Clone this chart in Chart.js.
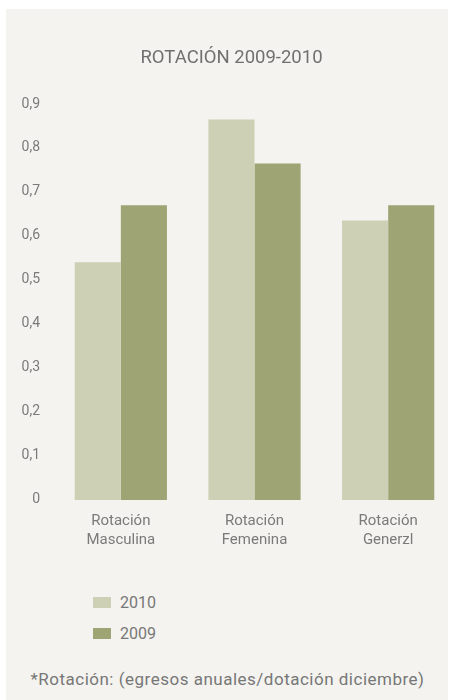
<!DOCTYPE html>
<html>
<head>
<meta charset="utf-8">
<script src="https://cdn.jsdelivr.net/npm/chart.js@4"></script>
<style>
  html, body { margin: 0; padding: 0; background: #ffffff; overflow: hidden; width: 449px; height: 700px; }
  #panel { position: absolute; left: 6px; top: 9px; width: 442px; height: 691px; background: #f4f3ef; }
  #chartBox { position: absolute; left: 0; top: 0; width: 455px; height: 573px; }
  #legend { position: absolute; left: 93px; top: 587px; font-family: Roboto, sans-serif; font-size: 16px; color: #777; }
  .item { display: flex; align-items: center; height: 31px; }
  .swatch { width: 18px; height: 11px; margin-right: 9px; }
  #note { position: absolute; left: 0; width: 455px; top: 669px; text-align: center;
          font-family: Roboto, sans-serif; font-size: 17px; letter-spacing: 0.5px; color: #777; }
</style>
</head>
<body>
<div id="panel"></div>
<div id="chartBox"><canvas id="rotChart"></canvas></div>
<div id="legend"></div>
<div id="note">*Rotación: (egresos anuales/dotación diciembre)</div>
<script>
// data
const categories = [['Rotación', 'Masculina'], ['Rotación', 'Femenina'], ['Rotación', 'Generzl']];
const values2010 = [0.54, 0.865, 0.635];
const values2009 = [0.67, 0.765, 0.67];
const seriesNames = ['2010', '2009'];
const seriesColors = ['#ced0b5', '#9ea474'];

const textGray = '#7a7a7a';

function fmtTick(v) {
  return v === 0 ? '0' : v.toFixed(1).replace('.', ',');
}

const chart = new Chart(document.getElementById('rotChart'), {
  type: 'bar',
  data: {
    labels: categories,
    datasets: [
      { label: seriesNames[0], data: values2010, backgroundColor: seriesColors[0] },
      { label: seriesNames[1], data: values2009, backgroundColor: seriesColors[1] },
    ],
  },
  options: {
    responsive: true,
    maintainAspectRatio: false,
    animation: false,
    layout: { padding: { left: 8, right: 0, top: 0, bottom: 11 } },
    datasets: { bar: { barPercentage: 1.0, categoryPercentage: 0.69 } },
    plugins: {
      legend: { display: false },
      tooltip: { enabled: false },
      title: {
        display: true,
        text: 'ROTACIÓN 2009-2010',
        color: '#707070',
        font: { family: 'Roboto', size: 18.5, weight: 'normal' },
        padding: { top: 47, bottom: 34.8 },
      },
    },
    scales: {
      x: {
        grid: { display: false, drawTicks: false },
        border: { display: false },
        ticks: {
          color: textGray,
          padding: 12,
          font: { family: 'Roboto', size: 15, lineHeight: 1.27 },
          maxRotation: 0,
        },
      },
      y: {
        min: 0,
        max: 0.9,
        afterFit: scale => { scale.width = 46; },
        grid: { display: false, drawTicks: false },
        border: { display: false },
        ticks: {
          stepSize: 0.1,
          padding: 14,
          color: textGray,
          font: { family: 'Roboto', size: 14 },
          callback: v => fmtTick(v),
        },
      },
    },
  },
});

// legend built from the same series arrays
const legendEl = document.getElementById('legend');
seriesNames.forEach((name, i) => {
  const row = document.createElement('div');
  row.className = 'item';
  row.innerHTML = '<span class="swatch" style="background:' + seriesColors[i] + '"></span><span>' + name + '</span>';
  legendEl.appendChild(row);
});
</script>
</body>
</html>
